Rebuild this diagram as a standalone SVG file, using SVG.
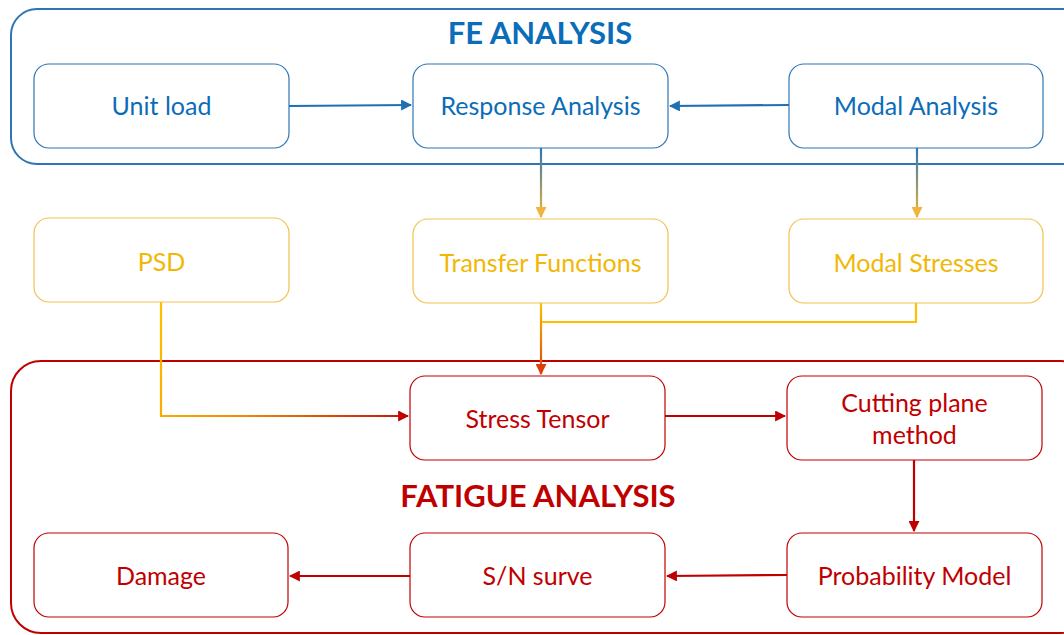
<svg xmlns="http://www.w3.org/2000/svg" width="1064" height="635" viewBox="0 0 1064 635">
<style>
.lbl{font-family:Lato,"Open Sans","Liberation Sans",sans-serif;font-size:25px;text-anchor:middle}
.title{font-family:Lato,"Open Sans","Liberation Sans",sans-serif;font-size:31px;font-weight:bold;text-anchor:middle}
.bn{fill:#fff;stroke:#2E75B6;stroke-width:1.2}
.yn{fill:#fff;stroke:#F2C14E;stroke-width:1.2}
.rn{fill:#fff;stroke:#C00000;stroke-width:1.2}
.bt{fill:#0B6CB8}
.yt{fill:#F2B705}
.rt{fill:#C00000}
.c{fill:none;stroke-width:2.2}
</style>
<defs>
<marker id="ab" viewBox="0 0 10 10" refX="9" refY="5" markerWidth="5" markerHeight="5" orient="auto"><path d="M0,0L10,5L0,10z" fill="#1F6FB5"/></marker>
<marker id="ay" viewBox="0 0 10 10" refX="9" refY="5" markerWidth="5" markerHeight="5" orient="auto"><path d="M0,0L10,5L0,10z" fill="#F0B43C"/></marker>
<marker id="ao" viewBox="0 0 10 10" refX="9" refY="5" markerWidth="5" markerHeight="5" orient="auto"><path d="M0,0L10,5L0,10z" fill="#D9400A"/></marker>
<marker id="ar" viewBox="0 0 10 10" refX="9" refY="5" markerWidth="5" markerHeight="5" orient="auto"><path d="M0,0L10,5L0,10z" fill="#C00000"/></marker>
<linearGradient id="gBY" gradientUnits="userSpaceOnUse" x1="0" y1="148" x2="0" y2="219"><stop offset="0" stop-color="#2E75B6"/><stop offset="1" stop-color="#F7B731"/></linearGradient>
<linearGradient id="gYO" gradientUnits="userSpaceOnUse" x1="0" y1="303" x2="0" y2="376"><stop offset="0" stop-color="#FFC000"/><stop offset="1" stop-color="#D9400A"/></linearGradient>
<linearGradient id="gYR" gradientUnits="userSpaceOnUse" x1="161" y1="302" x2="410" y2="416"><stop offset="0" stop-color="#FFC000"/><stop offset="0.45" stop-color="#F08A00"/><stop offset="1" stop-color="#C8100A"/></linearGradient>
</defs>
<g id="fe-container">
<rect x="11" y="9" width="1080" height="155" rx="26" fill="none" stroke="#2E75B6" stroke-width="2"/>
<text class="title" x="540" y="44" fill="#0B6CB8">FE ANALYSIS</text>
</g>
<g id="fatigue-container">
<rect x="11" y="361" width="1080" height="272" rx="30" fill="none" stroke="#C00000" stroke-width="2"/>
<text class="title" x="538" y="507" fill="#C00000">FATIGUE ANALYSIS</text>
</g>
<g id="connectors">
<path class="c" d="M289,106 L411,105" stroke="#1F6FB5" marker-end="url(#ab)"/>
<path class="c" d="M789,105 L670,106" stroke="#1F6FB5" marker-end="url(#ab)"/>
<path class="c" d="M541,148 L541,217" stroke="url(#gBY)" marker-end="url(#ay)"/>
<path class="c" d="M917,148 L917,217" stroke="url(#gBY)" marker-end="url(#ay)"/>
<path class="c" d="M916,303 L916,322 L541,322" stroke="#FFC000"/>
<path class="c" d="M541,303 L541,374" stroke="url(#gYO)" marker-end="url(#ao)"/>
<path class="c" d="M161,302 L161,416 L408,416" stroke="url(#gYR)" marker-end="url(#ar)"/>
<path class="c" d="M665,416 L785,416" stroke="#C00000" marker-end="url(#ar)"/>
<path class="c" d="M914,460 L914,531" stroke="#C00000" marker-end="url(#ar)"/>
<path class="c" d="M787,575 L667,576" stroke="#C00000" marker-end="url(#ar)"/>
<path class="c" d="M410,576 L290,576" stroke="#C00000" marker-end="url(#ar)"/>
</g>
<g id="unit-load"><rect class="bn" x="34" y="64" width="255" height="84" rx="15"/><text class="lbl bt" x="161.5" y="115">Unit load</text></g>
<g id="response-analysis"><rect class="bn" x="413" y="64" width="255" height="84" rx="15"/><text class="lbl bt" x="540.5" y="115">Response Analysis</text></g>
<g id="modal-analysis"><rect class="bn" x="789" y="64" width="254" height="84" rx="15"/><text class="lbl bt" x="916" y="115">Modal Analysis</text></g>
<g id="psd"><rect class="yn" x="34" y="218" width="255" height="84" rx="15"/><text class="lbl yt" x="161.5" y="271">PSD</text></g>
<g id="transfer-functions"><rect class="yn" x="413" y="219" width="255" height="84" rx="15"/><text class="lbl yt" x="540.5" y="272">Transfer Functions</text></g>
<g id="modal-stresses"><rect class="yn" x="789" y="219" width="254" height="84" rx="15"/><text class="lbl yt" x="916" y="272">Modal Stresses</text></g>
<g id="stress-tensor"><rect class="rn" x="410" y="376" width="255" height="84" rx="15"/><text class="lbl rt" x="537.5" y="428">Stress Tensor</text></g>
<g id="cutting-plane"><rect class="rn" x="787" y="376" width="255" height="84" rx="15"/><text class="lbl rt" x="914.5" y="412">Cutting plane</text><text class="lbl rt" x="914.5" y="444">method</text></g>
<g id="damage"><rect class="rn" x="34" y="533" width="254" height="84" rx="15"/><text class="lbl rt" x="161" y="585">Damage</text></g>
<g id="sn-surve"><rect class="rn" x="410" y="533" width="255" height="84" rx="15"/><text class="lbl rt" x="537.5" y="585">S/N surve</text></g>
<g id="probability-model"><rect class="rn" x="787" y="533" width="255" height="84" rx="15"/><text class="lbl rt" x="914.5" y="585">Probability Model</text></g>
</svg>
